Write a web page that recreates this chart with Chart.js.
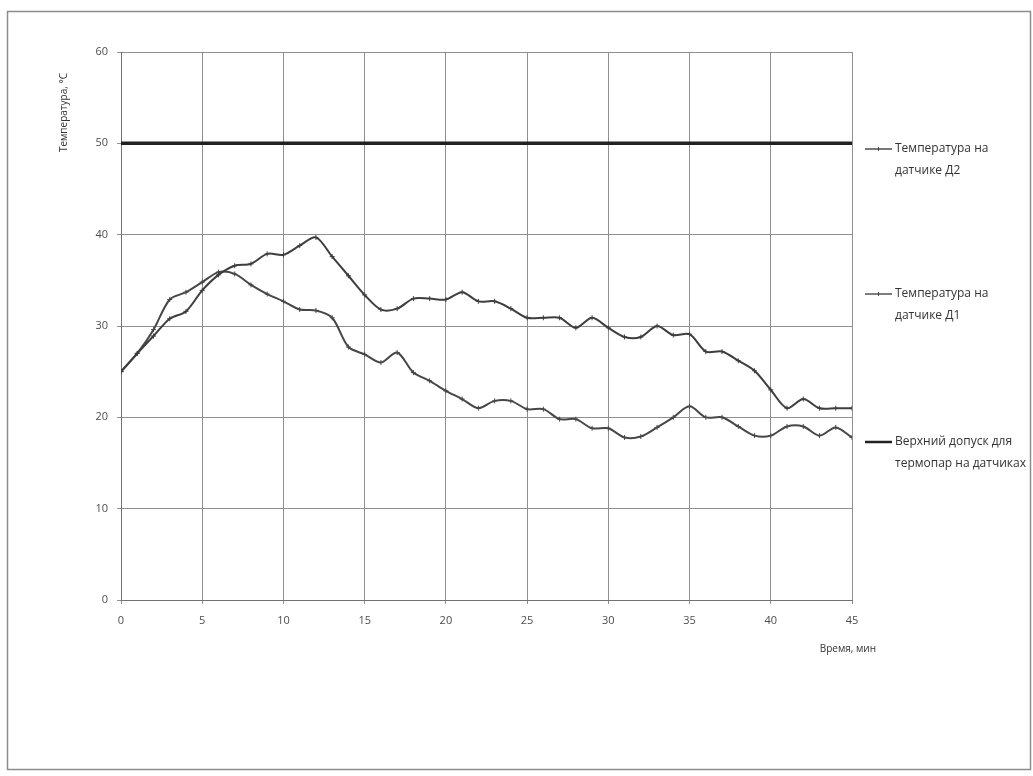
<!DOCTYPE html>
<html lang="ru">
<head>
<meta charset="utf-8">
<title>Температура на датчиках</title>
<script src="https://cdn.jsdelivr.net/npm/chart.js@4"></script>
<style>
  html, body { margin: 0; padding: 0; background: #ffffff; }
  #wrap { width: 1033px; height: 776px; position: relative; }
</style>
</head>
<body>
<div id="wrap"><canvas id="chart" width="1033" height="776"></canvas></div>
<script>
// Время, мин
const minutes = [0, 1, 2, 3, 4, 5, 6, 7, 8, 9, 10, 11, 12, 13, 14, 15, 16, 17, 18, 19, 20, 21, 22,
  23, 24, 25, 26, 27, 28, 29, 30, 31, 32, 33, 34, 35, 36, 37, 38, 39, 40, 41, 42, 43, 44, 45];

// Температура на датчике Д2, °С
const sensorD2 = [25, 27, 28.9, 30.8, 31.6, 33.9, 35.6, 36.6, 36.8, 37.9, 37.8, 38.8, 39.7, 37.6,
  35.5, 33.4, 31.8, 31.9, 33, 33, 32.9, 33.7, 32.7, 32.7, 31.9, 30.9, 30.9, 30.9, 29.8, 30.9,
  29.8, 28.8, 28.8, 30, 29, 29.1, 27.2, 27.2, 26.2, 25.1, 23, 21, 22, 21, 21, 21];

// Температура на датчике Д1, °С
const sensorD1 = [25, 27, 29.6, 32.9, 33.7, 34.8, 35.9, 35.7, 34.5, 33.5, 32.7, 31.8, 31.7, 30.9,
  27.7, 26.9, 26, 27.1, 24.9, 24, 22.9, 22, 21, 21.8, 21.8, 20.9, 20.9, 19.8, 19.8, 18.8, 18.8,
  17.8, 17.9, 18.9, 20, 21.2, 20, 20, 19, 18, 18, 19, 19, 18, 18.9, 17.8];

// Верхний допуск для термопар на датчиках, °С
const limitTimes = [0, 45];
const limitValues = [50, 50];

// Подписи осей и легенды
const xTicks = [0, 5, 10, 15, 20, 25, 30, 35, 40, 45];
const yTicks = [0, 10, 20, 30, 40, 50, 60];
const xTitle = 'Время, мин';
const yTitle = 'Температура, °С';
const legendLines = [
  ['Температура на', 'датчике Д2'],
  ['Температура на', 'датчике Д1'],
  ['Верхний допуск для', 'термопар на датчиках']
];

const toPoints = (xs, ys) => xs.map((x, i) => ({ x: x, y: ys[i] }));

const FONT = '"Open Sans", "Liberation Sans", sans-serif';

// Рамка диаграммы, подписи осей и легенда справа
const decorations = {
  id: 'decorations',
  afterDraw(chart) {
    const ctx = chart.ctx;
    const area = chart.chartArea;
    ctx.save();

    // рамка области диаграммы
    ctx.strokeStyle = '#8c8c8c';
    ctx.lineWidth = 1.5;
    ctx.strokeRect(7.5, 11.5, 1023, 758);

    // название вертикальной оси
    ctx.fillStyle = '#333333';
    ctx.font = '10px ' + FONT;
    ctx.save();
    ctx.translate(area.left - 57, area.top + 21);
    ctx.rotate(-Math.PI / 2);
    ctx.textAlign = 'right';
    ctx.textBaseline = 'middle';
    ctx.fillText(yTitle, 0, 0);
    ctx.restore();

    // название горизонтальной оси
    ctx.textAlign = 'right';
    ctx.textBaseline = 'middle';
    ctx.fillText(xTitle, area.right + 24, area.bottom + 49);

    // легенда
    const entryY = [area.top + 97, area.top + 242, area.top + 390];
    const datasets = chart.data.datasets;
    ctx.font = '12px ' + FONT;
    ctx.textAlign = 'left';
    datasets.forEach((ds, di) => {
      const y = entryY[di];
      const x0 = area.right + 13;
      const x1 = area.right + 40;
      ctx.strokeStyle = ds.borderColor;
      ctx.lineWidth = di === 2 ? 2.5 : 1.4;
      ctx.beginPath();
      ctx.moveTo(x0, y);
      ctx.lineTo(x1, y);
      ctx.stroke();
      if (di !== 2) {
        ctx.lineWidth = 1;
        ctx.beginPath();
        ctx.moveTo((x0 + x1) / 2, y - 2);
        ctx.lineTo((x0 + x1) / 2, y + 2);
        ctx.stroke();
      }
      ctx.fillStyle = '#333333';
      ctx.fillText(legendLines[di][0], x1 + 3, y);
      ctx.fillText(legendLines[di][1], x1 + 3, y + 22);
    });

    ctx.restore();
  }
};

new Chart(document.getElementById('chart'), {
  type: 'line',
  data: {
    datasets: [
      {
        label: legendLines[0].join(' '),
        data: toPoints(minutes, sensorD2),
        borderColor: '#3e3e3e',
        borderWidth: 2,
        pointStyle: 'cross',
        pointRadius: 2.5,
        pointBorderWidth: 1,
        pointBorderColor: '#3e3e3e',
        tension: 0.3,
        fill: false
      },
      {
        label: legendLines[1].join(' '),
        data: toPoints(minutes, sensorD1),
        borderColor: '#474747',
        borderWidth: 2,
        pointStyle: 'cross',
        pointRadius: 2.5,
        pointBorderWidth: 1,
        pointBorderColor: '#474747',
        tension: 0.3,
        fill: false
      },
      {
        label: legendLines[2].join(' '),
        data: toPoints(limitTimes, limitValues),
        borderColor: '#222222',
        borderWidth: 3.5,
        pointRadius: 0,
        fill: false
      }
    ]
  },
  options: {
    responsive: false,
    animation: false,
    layout: { padding: { left: 0, right: 181, top: 52, bottom: 0 } },
    plugins: {
      legend: { display: false },
      tooltip: { enabled: false }
    },
    scales: {
      x: {
        type: 'linear',
        min: 0,
        max: 45,
        afterBuildTicks(scale) { scale.ticks = xTicks.map(v => ({ value: v })); },
        afterFit(scale) { scale.height = 176; },
        grid: { color: '#8f8f8f', lineWidth: 1, tickLength: 4, tickColor: '#8f8f8f' },
        border: { color: '#727272', width: 1 },
        ticks: {
          padding: 10,
          color: '#4d4d4d',
          font: { family: FONT, size: 11 },
          maxRotation: 0
        }
      },
      y: {
        min: 0,
        max: 60,
        afterBuildTicks(scale) { scale.ticks = yTicks.map(v => ({ value: v })); },
        afterFit(scale) { scale.width = 121; },
        grid: { color: '#8f8f8f', lineWidth: 1, tickLength: 4, tickColor: '#8f8f8f' },
        border: { color: '#727272', width: 1 },
        ticks: {
          padding: 9,
          color: '#4d4d4d',
          font: { family: FONT, size: 11 }
        }
      }
    }
  },
  plugins: [decorations]
});
</script>
</body>
</html>
